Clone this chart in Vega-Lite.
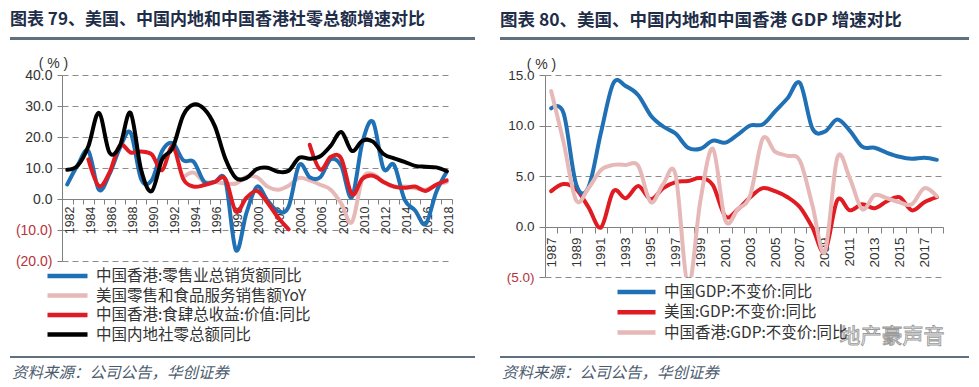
{
"$schema": "https://vega.github.io/schema/vega-lite/v6.json",
"background": "white",
"padding": {"left": 10, "top": 11, "right": 0, "bottom": 0},
"config": {"view": {"stroke": null}, "font": "Liberation Sans"},
"spacing": 16,
"vconcat": [
 {"hconcat": [
  {"width": 465, "height": 3, "view": {"fill": "#5f7080", "stroke": null}, "data": {"values": [{"k": 1}]}, "mark": {"type": "point", "opacity": 0, "size": 1}, "encoding": {},
   "title": {"text": "图表 79、美国、中国内地和中国香港社零总额增速对比", "anchor": "start", "fontSize": 17, "font": "Noto Sans CJK SC", "fontWeight": "bold", "color": "#1e2d48", "offset": 8}},
  {"width": 469, "height": 3, "view": {"fill": "#5f7080", "stroke": null}, "data": {"values": [{"k": 1}]}, "mark": {"type": "point", "opacity": 0, "size": 1}, "encoding": {},
   "title": {"text": "图表 80、美国、中国内地和中国香港 GDP 增速对比", "anchor": "start", "fontSize": 17.5, "font": "Noto Sans CJK SC", "fontWeight": "bold", "color": "#1e2d48", "offset": 8}}
 ], "spacing": 25},
 {"vconcat": [
  {"hconcat": [
   {"hconcat": [
    {"width": 1, "height": 1, "data": {"values": [{"k": 1}]}, "mark": {"type": "point", "opacity": 0, "size": 1}, "encoding": {}},
    {"width": 390, "height": 186,
    "data": {"values": [
{"series":"美国零售和食品服务销售额YoY","year":1993,"value":7},
{"series":"美国零售和食品服务销售额YoY","year":1994,"value":8.5},
{"series":"美国零售和食品服务销售额YoY","year":1995,"value":5.5},
{"series":"美国零售和食品服务销售额YoY","year":1996,"value":5.5},
{"series":"美国零售和食品服务销售额YoY","year":1997,"value":5},
{"series":"美国零售和食品服务销售额YoY","year":1998,"value":5},
{"series":"美国零售和食品服务销售额YoY","year":1999,"value":7.2},
{"series":"美国零售和食品服务销售额YoY","year":2000,"value":7},
{"series":"美国零售和食品服务销售额YoY","year":2001,"value":4},
{"series":"美国零售和食品服务销售额YoY","year":2002,"value":3},
{"series":"美国零售和食品服务销售额YoY","year":2003,"value":4.3},
{"series":"美国零售和食品服务销售额YoY","year":2004,"value":6.8},
{"series":"美国零售和食品服务销售额YoY","year":2005,"value":6},
{"series":"美国零售和食品服务销售额YoY","year":2006,"value":4.6},
{"series":"美国零售和食品服务销售额YoY","year":2007,"value":3},
{"series":"美国零售和食品服务销售额YoY","year":2008,"value":-1.5},
{"series":"美国零售和食品服务销售额YoY","year":2009,"value":-7.5},
{"series":"美国零售和食品服务销售额YoY","year":2010,"value":6.5},
{"series":"美国零售和食品服务销售额YoY","year":2011,"value":8},
{"series":"美国零售和食品服务销售额YoY","year":2012,"value":5.5},
{"series":"美国零售和食品服务销售额YoY","year":2013,"value":4},
{"series":"美国零售和食品服务销售额YoY","year":2014,"value":4},
{"series":"美国零售和食品服务销售额YoY","year":2015,"value":3.5},
{"series":"美国零售和食品服务销售额YoY","year":2016,"value":3},
{"series":"美国零售和食品服务销售额YoY","year":2017,"value":4.5},
{"series":"美国零售和食品服务销售额YoY","year":2018,"value":5.5},
{"series":"中国香港:零售业总销货额同比","year":1982,"value":4.7},
{"series":"中国香港:零售业总销货额同比","year":1983,"value":11},
{"series":"中国香港:零售业总销货额同比","year":1984,"value":15.5},
{"series":"中国香港:零售业总销货额同比","year":1985,"value":3},
{"series":"中国香港:零售业总销货额同比","year":1986,"value":8},
{"series":"中国香港:零售业总销货额同比","year":1987,"value":16.5},
{"series":"中国香港:零售业总销货额同比","year":1988,"value":21.4},
{"series":"中国香港:零售业总销货额同比","year":1989,"value":6.5},
{"series":"中国香港:零售业总销货额同比","year":1990,"value":6},
{"series":"中国香港:零售业总销货额同比","year":1991,"value":15.5},
{"series":"中国香港:零售业总销货额同比","year":1992,"value":18},
{"series":"中国香港:零售业总销货额同比","year":1993,"value":12.5},
{"series":"中国香港:零售业总销货额同比","year":1994,"value":12},
{"series":"中国香港:零售业总销货额同比","year":1995,"value":5.5},
{"series":"中国香港:零售业总销货额同比","year":1996,"value":5.5},
{"series":"中国香港:零售业总销货额同比","year":1997,"value":6},
{"series":"中国香港:零售业总销货额同比","year":1998,"value":-16.5},
{"series":"中国香港:零售业总销货额同比","year":1999,"value":-4.5},
{"series":"中国香港:零售业总销货额同比","year":2000,"value":4},
{"series":"中国香港:零售业总销货额同比","year":2001,"value":-0.5},
{"series":"中国香港:零售业总销货额同比","year":2002,"value":-4},
{"series":"中国香港:零售业总销货额同比","year":2003,"value":-2.5},
{"series":"中国香港:零售业总销货额同比","year":2004,"value":11},
{"series":"中国香港:零售业总销货额同比","year":2005,"value":7},
{"series":"中国香港:零售业总销货额同比","year":2006,"value":7},
{"series":"中国香港:零售业总销货额同比","year":2007,"value":12.8},
{"series":"中国香港:零售业总销货额同比","year":2008,"value":10.6},
{"series":"中国香港:零售业总销货额同比","year":2009,"value":0.6},
{"series":"中国香港:零售业总销货额同比","year":2010,"value":18.3},
{"series":"中国香港:零售业总销货额同比","year":2011,"value":24.9},
{"series":"中国香港:零售业总销货额同比","year":2012,"value":9.8},
{"series":"中国香港:零售业总销货额同比","year":2013,"value":11},
{"series":"中国香港:零售业总销货额同比","year":2014,"value":-0.2},
{"series":"中国香港:零售业总销货额同比","year":2015,"value":-3.7},
{"series":"中国香港:零售业总销货额同比","year":2016,"value":-8.1},
{"series":"中国香港:零售业总销货额同比","year":2017,"value":2.2},
{"series":"中国香港:零售业总销货额同比","year":2018,"value":8.8},
{"series":"中国香港:食肆总收益:价值:同比","part":1,"year":1984,"value":12.8},
{"series":"中国香港:食肆总收益:价值:同比","part":1,"year":1985,"value":4.2},
{"series":"中国香港:食肆总收益:价值:同比","part":1,"year":1986,"value":8.5},
{"series":"中国香港:食肆总收益:价值:同比","part":1,"year":1987,"value":17.3},
{"series":"中国香港:食肆总收益:价值:同比","part":1,"year":1988,"value":15},
{"series":"中国香港:食肆总收益:价值:同比","part":1,"year":1989,"value":15.3},
{"series":"中国香港:食肆总收益:价值:同比","part":1,"year":1990,"value":14.4},
{"series":"中国香港:食肆总收益:价值:同比","part":1,"year":1991,"value":9.3},
{"series":"中国香港:食肆总收益:价值:同比","part":1,"year":1992,"value":17},
{"series":"中国香港:食肆总收益:价值:同比","part":1,"year":1993,"value":6.5},
{"series":"中国香港:食肆总收益:价值:同比","part":1,"year":1994,"value":4},
{"series":"中国香港:食肆总收益:价值:同比","part":1,"year":1995,"value":4.5},
{"series":"中国香港:食肆总收益:价值:同比","part":1,"year":1996,"value":5.5},
{"series":"中国香港:食肆总收益:价值:同比","part":1,"year":1997,"value":6.5},
{"series":"中国香港:食肆总收益:价值:同比","part":1,"year":1998,"value":-4},
{"series":"中国香港:食肆总收益:价值:同比","part":1,"year":1999,"value":0.4},
{"series":"中国香港:食肆总收益:价值:同比","part":1,"year":2000,"value":2.6},
{"series":"中国香港:食肆总收益:价值:同比","part":1,"year":2001,"value":-1.2},
{"series":"中国香港:食肆总收益:价值:同比","part":1,"year":2002,"value":-6},
{"series":"中国香港:食肆总收益:价值:同比","part":1,"year":2003,"value":-9.8},
{"series":"中国香港:食肆总收益:价值:同比","part":2,"year":2005,"value":17.5},
{"series":"中国香港:食肆总收益:价值:同比","part":2,"year":2006,"value":9.5},
{"series":"中国香港:食肆总收益:价值:同比","part":2,"year":2007,"value":13.6},
{"series":"中国香港:食肆总收益:价值:同比","part":2,"year":2008,"value":13},
{"series":"中国香港:食肆总收益:价值:同比","part":2,"year":2009,"value":1.5},
{"series":"中国香港:食肆总收益:价值:同比","part":2,"year":2010,"value":6.5},
{"series":"中国香港:食肆总收益:价值:同比","part":2,"year":2011,"value":7.5},
{"series":"中国香港:食肆总收益:价值:同比","part":2,"year":2012,"value":5.5},
{"series":"中国香港:食肆总收益:价值:同比","part":2,"year":2013,"value":4},
{"series":"中国香港:食肆总收益:价值:同比","part":2,"year":2014,"value":3.6},
{"series":"中国香港:食肆总收益:价值:同比","part":2,"year":2015,"value":4},
{"series":"中国香港:食肆总收益:价值:同比","part":2,"year":2016,"value":2.6},
{"series":"中国香港:食肆总收益:价值:同比","part":2,"year":2017,"value":4.6},
{"series":"中国香港:食肆总收益:价值:同比","part":2,"year":2018,"value":6},
{"series":"中国内地社零总额同比","year":1982,"value":9.4},
{"series":"中国内地社零总额同比","year":1983,"value":10.8},
{"series":"中国内地社零总额同比","year":1984,"value":17},
{"series":"中国内地社零总额同比","year":1985,"value":27.8},
{"series":"中国内地社零总额同比","year":1986,"value":15},
{"series":"中国内地社零总额同比","year":1987,"value":17.2},
{"series":"中国内地社零总额同比","year":1988,"value":27.8},
{"series":"中国内地社零总额同比","year":1989,"value":9.5},
{"series":"中国内地社零总额同比","year":1990,"value":2.5},
{"series":"中国内地社零总额同比","year":1991,"value":12.8},
{"series":"中国内地社零总额同比","year":1992,"value":16.5},
{"series":"中国内地社零总额同比","year":1993,"value":27},
{"series":"中国内地社零总额同比","year":1994,"value":30.5},
{"series":"中国内地社零总额同比","year":1995,"value":29},
{"series":"中国内地社零总额同比","year":1996,"value":23.5},
{"series":"中国内地社零总额同比","year":1997,"value":13},
{"series":"中国内地社零总额同比","year":1998,"value":6.8},
{"series":"中国内地社零总额同比","year":1999,"value":6.8},
{"series":"中国内地社零总额同比","year":2000,"value":9.7},
{"series":"中国内地社零总额同比","year":2001,"value":10.1},
{"series":"中国内地社零总额同比","year":2002,"value":8.8},
{"series":"中国内地社零总额同比","year":2003,"value":9.1},
{"series":"中国内地社零总额同比","year":2004,"value":13.3},
{"series":"中国内地社零总额同比","year":2005,"value":13},
{"series":"中国内地社零总额同比","year":2006,"value":13.8},
{"series":"中国内地社零总额同比","year":2007,"value":17.2},
{"series":"中国内地社零总额同比","year":2008,"value":21.6},
{"series":"中国内地社零总额同比","year":2009,"value":15.5},
{"series":"中国内地社零总额同比","year":2010,"value":18.8},
{"series":"中国内地社零总额同比","year":2011,"value":18.5},
{"series":"中国内地社零总额同比","year":2012,"value":14.5},
{"series":"中国内地社零总额同比","year":2013,"value":13.1},
{"series":"中国内地社零总额同比","year":2014,"value":12},
{"series":"中国内地社零总额同比","year":2015,"value":10.7},
{"series":"中国内地社零总额同比","year":2016,"value":10.4},
{"series":"中国内地社零总额同比","year":2017,"value":10.2},
{"series":"中国内地社零总额同比","year":2018,"value":9}
    ]},
    "mark": {"type": "line", "interpolate": "cardinal", "strokeWidth": 4, "clip": true, "strokeCap": "round", "strokeJoin": "round"},
    "encoding": {
     "x": {"field": "year", "type": "quantitative", "scale": {"domain": [1981.5, 2018.5], "nice": false, "zero": false},
      "axis": {"title": null, "values": [1981.5,1982.5,1983.5,1984.5,1985.5,1986.5,1987.5,1988.5,1989.5,1990.5,1991.5,1992.5,1993.5,1994.5,1995.5,1996.5,1997.5,1998.5,1999.5,2000.5,2001.5,2002.5,2003.5,2004.5,2005.5,2006.5,2007.5,2008.5,2009.5,2010.5,2011.5,2012.5,2013.5,2014.5,2015.5,2016.5,2017.5,2018.5],
       "labelExpr": "(datum.value + 0.5) % 2 == 0 && datum.value < 2018 ? toString(datum.value + 0.5) : ''",
       "labelOffset": 7, "labelAngle": 270, "labelFontSize": 12.5, "labelColor": "#333333", "labelFlush": false, "labelOverlap": false, "labelBound": false,
       "tickSize": 5, "labelPadding": 2, "offset": -62, "grid": false, "domainColor": "#808080", "tickColor": "#808080"}},
     "y": {"field": "value", "type": "quantitative", "scale": {"domain": [-20, 40], "nice": false, "zero": false},
      "axis": {"values": [-20,-10,0,10,20,30,40], "grid": true, "gridDash": [6,4], "gridColor": "#8c8c8c",
       "labelExpr": "datum.value < 0 ? '(' + format(-datum.value, '.1f') + ')' : format(datum.value, '.1f')",
       "labelColor": {"condition": {"test": "datum.value < 0", "value": "#b5333b"}, "value": "#333333"},
       "labelFontSize": 14, "tickSize": 5, "labelPadding": 5, "domainColor": "#808080", "tickColor": "#808080",
       "title": "( % )", "titleAngle": 0, "titleX": -9, "titleY": -12, "titleAlign": "center", "titleBaseline": "middle", "titleFontSize": 14, "titleFontWeight": "normal", "titleColor": "#333333"}},
     "color": {"field": "series", "type": "nominal",
      "scale": {"domain": ["中国香港:零售业总销货额同比","美国零售和食品服务销售额YoY","中国香港:食肆总收益:价值:同比","中国内地社零总额同比"], "range": ["#1f70b4","#e6b9b8","#e01b22","#000000"]},
      "legend": {"orient": "none", "legendX": 35, "legendY": 193, "direction": "vertical", "title": null, "symbolType": "stroke", "symbolSize": 1600, "symbolStrokeWidth": 4.5, "labelFontSize": 15.5, "labelFont": "Noto Sans CJK SC", "labelColor": "#333333", "rowPadding": 2.5, "clipHeight": 16, "labelOffset": 6, "labelLimit": 400, "padding": 0}},
     "detail": {"field": "part"}
    }
   }
   ], "spacing": 4},
   {"width": 398, "height": 202,
    "encoding": {
     "x": {"field": "year", "type": "quantitative", "scale": {"domain": [1986.5, 2018.5], "nice": false, "zero": false},
      "axis": {"title": null, "values": [1986.5,1987.5,1988.5,1989.5,1990.5,1991.5,1992.5,1993.5,1994.5,1995.5,1996.5,1997.5,1998.5,1999.5,2000.5,2001.5,2002.5,2003.5,2004.5,2005.5,2006.5,2007.5,2008.5,2009.5,2010.5,2011.5,2012.5,2013.5,2014.5,2015.5,2016.5,2017.5,2018.5],
       "labelExpr": "(datum.value + 0.5) % 2 == 1 && datum.value < 2018 ? toString(datum.value + 0.5) : ''",
       "labelOffset": 6.2, "labelAngle": 270, "labelFontSize": 13.5, "labelColor": "#333333", "labelFlush": false, "labelOverlap": false, "labelBound": false,
       "tickSize": 6, "labelPadding": 4, "offset": -50, "grid": false, "domainColor": "#808080", "tickColor": "#808080"}},
     "y": {"field": "value", "type": "quantitative", "scale": {"domain": [-5, 15], "nice": false, "zero": false},
      "axis": {"values": [-5,0,5,10,15], "grid": true, "gridDash": [6,4], "gridColor": "#8c8c8c",
       "labelExpr": "datum.value < 0 ? '(' + format(-datum.value, '.1f') + ')' : format(datum.value, '.1f')",
       "labelColor": {"condition": {"test": "datum.value < 0", "value": "#b5333b"}, "value": "#333333"},
       "labelFontSize": 13.5, "tickSize": 6, "labelPadding": 5, "domainColor": "#808080", "tickColor": "#808080",
       "title": "( % )", "titleAngle": 0, "titleX": -4, "titleY": -11, "titleAlign": "center", "titleBaseline": "middle", "titleFontSize": 14, "titleFontWeight": "normal", "titleColor": "#333333"}}
    },
    "layer": [
     {"data": {"values": [
{"series":"美国:GDP:不变价:同比","year":1987,"value":3.5},{"series":"美国:GDP:不变价:同比","year":1988,"value":4.2},{"series":"美国:GDP:不变价:同比","year":1989,"value":3.7},{"series":"美国:GDP:不变价:同比","year":1990,"value":1.9},{"series":"美国:GDP:不变价:同比","year":1991,"value":-0.1},{"series":"美国:GDP:不变价:同比","year":1992,"value":3.5},{"series":"美国:GDP:不变价:同比","year":1993,"value":2.8},{"series":"美国:GDP:不变价:同比","year":1994,"value":4.0},{"series":"美国:GDP:不变价:同比","year":1995,"value":2.7},{"series":"美国:GDP:不变价:同比","year":1996,"value":3.8},{"series":"美国:GDP:不变价:同比","year":1997,"value":4.4},{"series":"美国:GDP:不变价:同比","year":1998,"value":4.5},{"series":"美国:GDP:不变价:同比","year":1999,"value":4.8},{"series":"美国:GDP:不变价:同比","year":2000,"value":4.1},{"series":"美国:GDP:不变价:同比","year":2001,"value":1.0},{"series":"美国:GDP:不变价:同比","year":2002,"value":1.7},{"series":"美国:GDP:不变价:同比","year":2003,"value":2.9},{"series":"美国:GDP:不变价:同比","year":2004,"value":3.8},{"series":"美国:GDP:不变价:同比","year":2005,"value":3.5},{"series":"美国:GDP:不变价:同比","year":2006,"value":2.9},{"series":"美国:GDP:不变价:同比","year":2007,"value":1.9},{"series":"美国:GDP:不变价:同比","year":2008,"value":-0.1},{"series":"美国:GDP:不变价:同比","year":2009,"value":-2.5},{"series":"美国:GDP:不变价:同比","year":2010,"value":2.6},{"series":"美国:GDP:不变价:同比","year":2011,"value":1.6},{"series":"美国:GDP:不变价:同比","year":2012,"value":2.2},{"series":"美国:GDP:不变价:同比","year":2013,"value":1.8},{"series":"美国:GDP:不变价:同比","year":2014,"value":2.5},{"series":"美国:GDP:不变价:同比","year":2015,"value":2.9},{"series":"美国:GDP:不变价:同比","year":2016,"value":1.6},{"series":"美国:GDP:不变价:同比","year":2017,"value":2.4},{"series":"美国:GDP:不变价:同比","year":2018,"value":2.9},
{"series":"中国GDP:不变价:同比","year":1987,"value":11.7},{"series":"中国GDP:不变价:同比","year":1988,"value":11.2},{"series":"中国GDP:不变价:同比","year":1989,"value":4.2},{"series":"中国GDP:不变价:同比","year":1990,"value":3.9},{"series":"中国GDP:不变价:同比","year":1991,"value":9.3},{"series":"中国GDP:不变价:同比","year":1992,"value":14.2},{"series":"中国GDP:不变价:同比","year":1993,"value":13.9},{"series":"中国GDP:不变价:同比","year":1994,"value":13.0},{"series":"中国GDP:不变价:同比","year":1995,"value":11.0},{"series":"中国GDP:不变价:同比","year":1996,"value":9.9},{"series":"中国GDP:不变价:同比","year":1997,"value":9.2},{"series":"中国GDP:不变价:同比","year":1998,"value":7.8},{"series":"中国GDP:不变价:同比","year":1999,"value":7.7},{"series":"中国GDP:不变价:同比","year":2000,"value":8.5},{"series":"中国GDP:不变价:同比","year":2001,"value":8.3},{"series":"中国GDP:不变价:同比","year":2002,"value":9.1},{"series":"中国GDP:不变价:同比","year":2003,"value":10.0},{"series":"中国GDP:不变价:同比","year":2004,"value":10.1},{"series":"中国GDP:不变价:同比","year":2005,"value":11.4},{"series":"中国GDP:不变价:同比","year":2006,"value":12.7},{"series":"中国GDP:不变价:同比","year":2007,"value":14.2},{"series":"中国GDP:不变价:同比","year":2008,"value":9.7},{"series":"中国GDP:不变价:同比","year":2009,"value":9.4},{"series":"中国GDP:不变价:同比","year":2010,"value":10.6},{"series":"中国GDP:不变价:同比","year":2011,"value":9.5},{"series":"中国GDP:不变价:同比","year":2012,"value":7.9},{"series":"中国GDP:不变价:同比","year":2013,"value":7.8},{"series":"中国GDP:不变价:同比","year":2014,"value":7.3},{"series":"中国GDP:不变价:同比","year":2015,"value":6.9},{"series":"中国GDP:不变价:同比","year":2016,"value":6.7},{"series":"中国GDP:不变价:同比","year":2017,"value":6.8},{"series":"中国GDP:不变价:同比","year":2018,"value":6.6},
{"series":"中国香港:GDP:不变价:同比","year":1987,"value":13.4},{"series":"中国香港:GDP:不变价:同比","year":1988,"value":8.3},{"series":"中国香港:GDP:不变价:同比","year":1989,"value":2.6},{"series":"中国香港:GDP:不变价:同比","year":1990,"value":3.8},{"series":"中国香港:GDP:不变价:同比","year":1991,"value":5.6},{"series":"中国香港:GDP:不变价:同比","year":1992,"value":6.1},{"series":"中国香港:GDP:不变价:同比","year":1993,"value":6.1},{"series":"中国香港:GDP:不变价:同比","year":1994,"value":6.0},{"series":"中国香港:GDP:不变价:同比","year":1995,"value":2.4},{"series":"中国香港:GDP:不变价:同比","year":1996,"value":4.2},{"series":"中国香港:GDP:不变价:同比","year":1997,"value":5.1},{"series":"中国香港:GDP:不变价:同比","year":1998,"value":-5.9},{"series":"中国香港:GDP:不变价:同比","year":1999,"value":2.6},{"series":"中国香港:GDP:不变价:同比","year":2000,"value":7.7},{"series":"中国香港:GDP:不变价:同比","year":2001,"value":0.6},{"series":"中国香港:GDP:不变价:同比","year":2002,"value":1.7},{"series":"中国香港:GDP:不变价:同比","year":2003,"value":3.1},{"series":"中国香港:GDP:不变价:同比","year":2004,"value":8.7},{"series":"中国香港:GDP:不变价:同比","year":2005,"value":7.4},{"series":"中国香港:GDP:不变价:同比","year":2006,"value":7.0},{"series":"中国香港:GDP:不变价:同比","year":2007,"value":6.5},{"series":"中国香港:GDP:不变价:同比","year":2008,"value":2.1},{"series":"中国香港:GDP:不变价:同比","year":2009,"value":-2.5},{"series":"中国香港:GDP:不变价:同比","year":2010,"value":6.8},{"series":"中国香港:GDP:不变价:同比","year":2011,"value":4.8},{"series":"中国香港:GDP:不变价:同比","year":2012,"value":1.7},{"series":"中国香港:GDP:不变价:同比","year":2013,"value":3.1},{"series":"中国香港:GDP:不变价:同比","year":2014,"value":2.8},{"series":"中国香港:GDP:不变价:同比","year":2015,"value":2.4},{"series":"中国香港:GDP:不变价:同比","year":2016,"value":2.2},{"series":"中国香港:GDP:不变价:同比","year":2017,"value":3.8},{"series":"中国香港:GDP:不变价:同比","year":2018,"value":3.0}
      ]},
      "mark": {"type": "line", "interpolate": "cardinal", "strokeWidth": 4, "clip": true, "strokeCap": "round", "strokeJoin": "round"},
      "encoding": {
       "color": {"field": "series", "type": "nominal",
        "scale": {"domain": ["中国GDP:不变价:同比","美国:GDP:不变价:同比","中国香港:GDP:不变价:同比"], "range": ["#1f70b4","#e01b22","#e6b9b8"]},
        "legend": {"orient": "none", "legendX": 70, "legendY": 209, "direction": "vertical", "title": null, "symbolType": "stroke", "symbolSize": 1444, "symbolStrokeWidth": 4.5, "labelFontSize": 15.5, "labelFont": "Noto Sans CJK SC", "labelColor": "#333333", "rowPadding": 3.3, "clipHeight": 16, "labelOffset": 6, "labelLimit": 400, "padding": 0}}
      }
     },
     {"data": {"values": [{"label": "地产豪声音", "year": 2014.4, "value": -10.9}]},
      "mark": {"type": "text", "font": "Noto Sans CJK SC", "fontSize": 21, "fill": "#ffffff", "stroke": "#9a9a9a", "strokeWidth": 0.9, "clip": false, "baseline": "middle", "align": "center"},
      "encoding": {"text": {"field": "label"}}
     }
    ]
   }
  ], "spacing": 40, "resolve": {"scale": {"x": "independent", "y": "independent", "color": "independent"}, "legend": {"color": "independent"}}},
  {"hconcat": [
   {"width": 465, "height": 2, "view": {"fill": "#5f7080", "stroke": null}, "data": {"values": [{"k": 1}]}, "mark": {"type": "point", "opacity": 0, "size": 1}, "encoding": {},
    "title": {"text": "资料来源：公司公告，华创证券", "orient": "bottom", "anchor": "start", "fontSize": 15.5, "fontStyle": "italic", "fontWeight": "normal", "font": "Noto Sans CJK SC", "color": "#4c5c6e", "offset": 8, "dx": 2}},
   {"width": 469, "height": 2, "view": {"fill": "#5f7080", "stroke": null}, "data": {"values": [{"k": 1}]}, "mark": {"type": "point", "opacity": 0, "size": 1}, "encoding": {},
    "title": {"text": "资料来源：公司公告，华创证券", "orient": "bottom", "anchor": "start", "fontSize": 15.5, "fontStyle": "italic", "fontWeight": "normal", "font": "Noto Sans CJK SC", "color": "#4c5c6e", "offset": 8, "dx": 2}}
  ], "spacing": 25}
 ], "spacing": 9}
]
}
